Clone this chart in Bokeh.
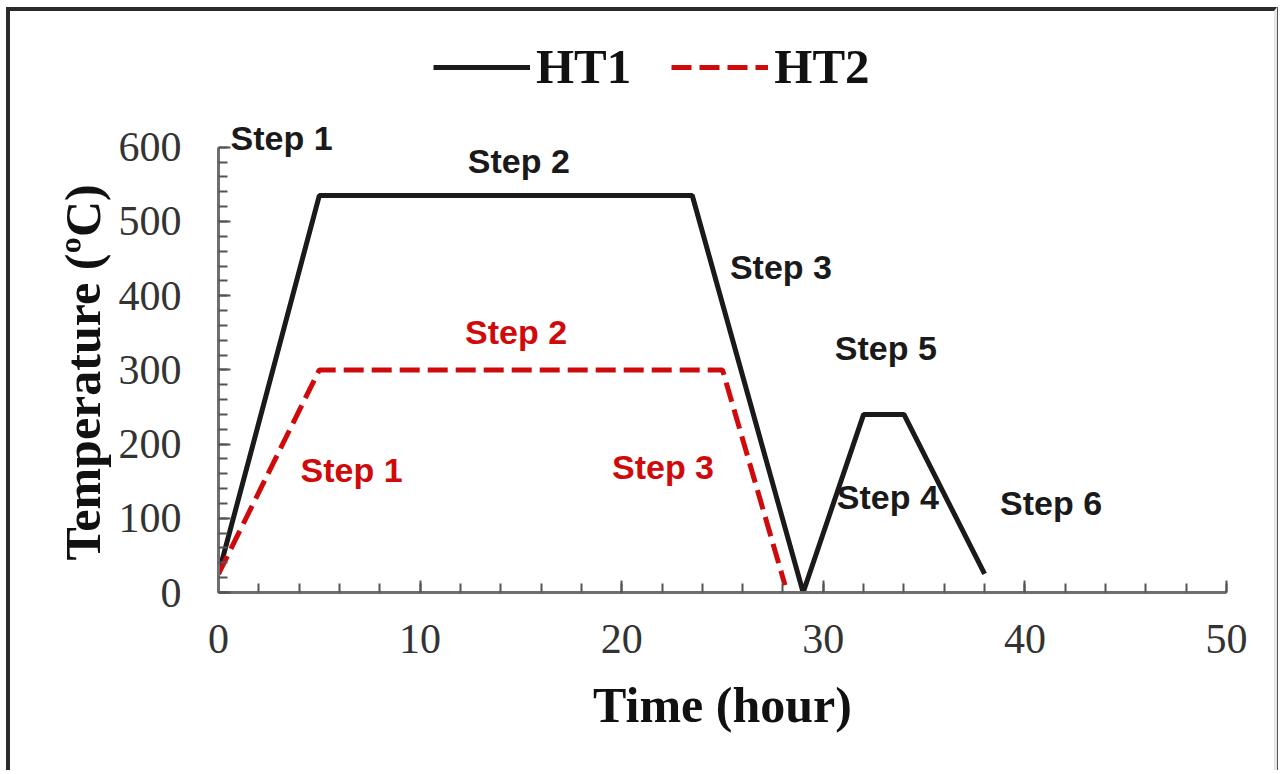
from bokeh.plotting import figure
from bokeh.models import (Range1d, Legend, LegendItem, LabelSet, ColumnDataSource,
                          FixedTicker, Title)
from bokeh.core.properties import value
from bokeh.embed import file_html
from bokeh.resources import INLINE

# ---- data ----
ht1_time = [0, 5, 23.5, 29, 32, 34, 38]
ht1_temp = [25, 535, 535, 0, 240, 240, 25]
ht2_time = [0, 5, 25, 28.1]
ht2_temp = [25, 300, 300, 10]

step_text_black = ["Step 1", "Step 2", "Step 3", "Step 4", "Step 5", "Step 6"]
step_x_black = [3.13, 14.9, 27.9, 33.2, 33.1, 41.3]
step_y_black = [597, 565, 423, 113, 313, 104]

step_text_red = ["Step 1", "Step 2", "Step 3"]
step_x_red = [6.6, 14.76, 22.05]
step_y_red = [149, 335, 153]

x_ticks = [0, 10, 20, 30, 40, 50]
y_ticks = [0, 100, 200, 300, 400, 500, 600]

RED = "#d00a0a"
BLACK = "#1a1a1a"

p = figure(width=1271, height=763, output_backend="svg", toolbar_location=None,
           x_range=Range1d(0, 50), y_range=Range1d(0, 783),
           min_border_left=208, min_border_right=55,
           min_border_top=0, min_border_bottom=182)
p.styles = {"margin-left": "6px", "margin-top": "7px",
            "border-left": "4px solid #2b2b2b", "border-top": "4px solid #2b2b2b",
            "border-right": "3px solid #e6e6e6",
            "box-shadow": "1px 0 0 #555555"}
p.background_fill_color = "white"
p.border_fill_color = "white"
p.outline_line_color = None
p.xgrid.visible = False
p.ygrid.visible = False

r1 = p.line(ht1_time, ht1_temp, line_color=BLACK, line_width=5)
r2 = p.line(ht2_time, ht2_temp, line_color=RED, line_width=5, line_dash="20 8")

for ax in (p.xaxis[0], p.yaxis[0]):
    ax.axis_line_color = "#6e6e6e"
    ax.axis_line_width = 3
    ax.major_tick_in = 12
    ax.major_tick_out = 0
    ax.minor_tick_in = 9
    ax.minor_tick_out = 0
    ax.major_tick_line_color = "#555555"
    ax.major_tick_line_width = 2
    ax.minor_tick_line_color = "#555555"
    ax.minor_tick_line_width = 2
    ax.major_label_text_font = "Liberation Serif"
    ax.major_label_text_font_size = "42px"
    ax.major_label_text_color = "#333333"
    ax.axis_label_text_font = "Liberation Serif"
    ax.axis_label_text_font_style = "bold"
    ax.axis_label_text_font_size = "50px"
    ax.axis_label_text_color = "#111111"

p.xaxis[0].ticker = FixedTicker(ticks=x_ticks, minor_ticks=list(range(0, 51, 2)))
p.yaxis[0].ticker = FixedTicker(ticks=y_ticks, minor_ticks=list(range(0, 601, 20)))
p.yaxis[0].bounds = (0, 600)
p.xaxis[0].axis_label = "Time (hour)"
p.xaxis[0].major_label_standoff = 32
p.yaxis[0].major_label_standoff = 37
p.xaxis[0].axis_label_standoff = 21

ytitle = Title(text="Temperature (ºC)", align="left", offset=32,
               text_font="Liberation Serif", text_font_style="bold",
               text_font_size="50px", text_color="#111111", standoff=10)
p.add_layout(ytitle, "left")

src_b = ColumnDataSource(dict(x=step_x_black, y=step_y_black, t=step_text_black))
src_r = ColumnDataSource(dict(x=step_x_red, y=step_y_red, t=step_text_red))
for src, col in ((src_b, BLACK), (src_r, RED)):
    p.add_layout(LabelSet(x="x", y="y", text="t", source=src, text_color=col,
                          text_font=value("Liberation Sans"), text_font_style="bold",
                          text_font_size="34px", text_align="center",
                          text_baseline="alphabetic"))

legend = Legend(items=[LegendItem(label="HT1", renderers=[r1]),
                       LegendItem(label="HT2", renderers=[r2])],
                location=(215, 497), orientation="horizontal",
                label_text_font="Liberation Serif", label_text_font_style="bold",
                label_text_font_size="49px", label_text_color="#111111",
                glyph_width=97, glyph_height=40, label_standoff=6, spacing=40,
                padding=0, margin=0, border_line_color=None,
                background_fill_alpha=0)
p.add_layout(legend, "center")

open("out.html", "w").write(file_html(p, INLINE))
